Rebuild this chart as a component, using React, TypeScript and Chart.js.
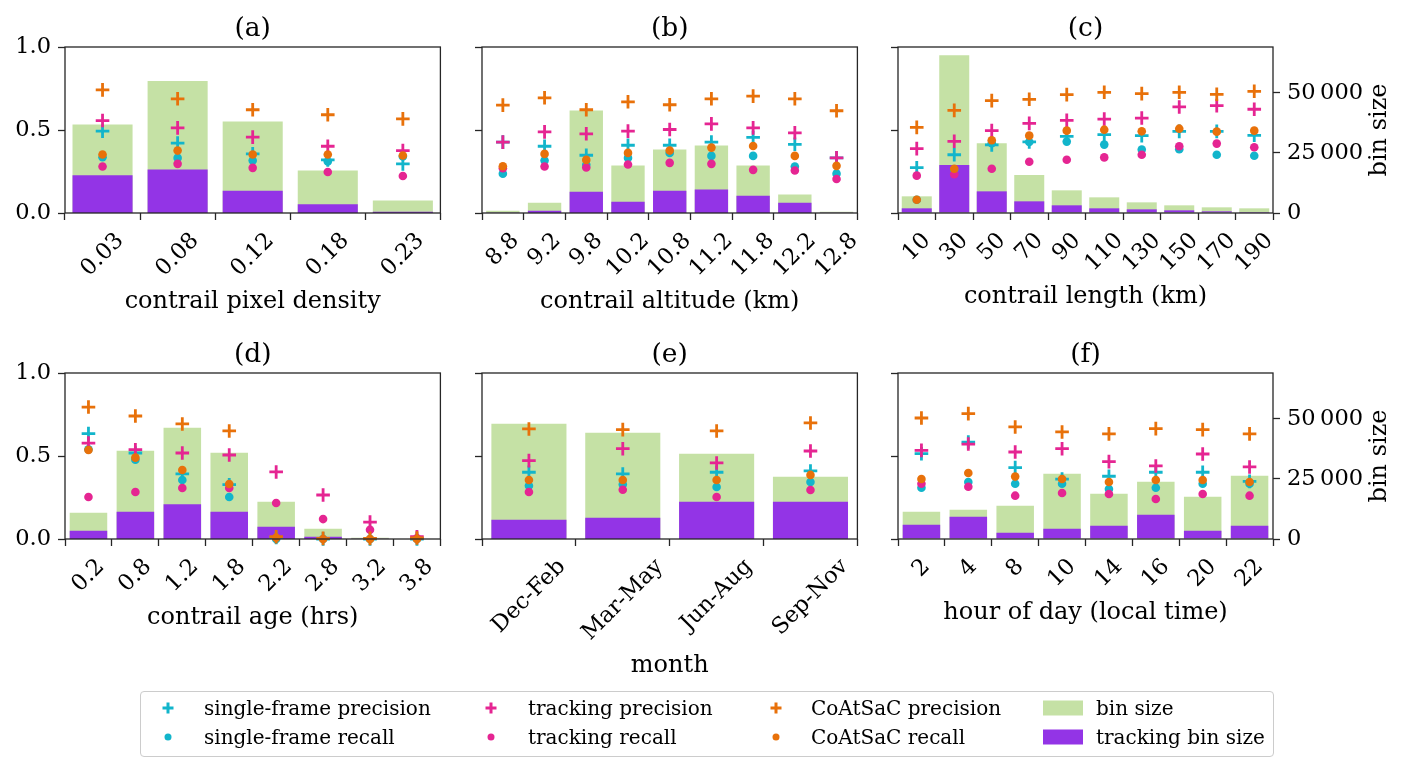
import { useEffect, useRef } from 'react';
import { Chart, registerables } from 'chart.js';

Chart.register(...registerables);

const FAMILY = "'DejaVu Serif', serif";
const INK = '#262626';
const CYAN = '#12b5cb';
const PINK = '#e52592';
const ORANGE = '#e8710a';
const GREEN = '#c5e1a5';
const PURPLE = '#9334e6';
const TICK_SIZE = 22.5;
const LABEL_SIZE = 24;
const TITLE_SIZE = 26.5;
const BIN_MAX = 69000;

const binTicks = [0, 25000, 50000];

// (a) contrail pixel density
const densityLabels = ['0.03', '0.08', '0.12', '0.18', '0.23'];
const densityBin = [36800, 54850, 38050, 17650, 5150];
const densityTrackBin = [15700, 18050, 9300, 3600, 550];
const densitySfPrec = [0.493, 0.421, 0.356, 0.32, 0.296];
const densitySfRec = [0.336, 0.332, 0.316, 0.31, 0.34];
const densityTrPrec = [0.557, 0.513, 0.457, 0.402, 0.376];
const densityTrRec = [0.28, 0.296, 0.272, 0.247, 0.223];
const densityCoPrec = [0.742, 0.688, 0.622, 0.592, 0.567];
const densityCoRec = [0.352, 0.376, 0.352, 0.352, 0.346];

// (b) contrail altitude
const altLabels = ['8.8', '9.2', '9.8', '10.2', '10.8', '11.2', '11.8', '12.2', '12.8'];
const altBin = [970, 4300, 42600, 19700, 26400, 28050, 19700, 7640, 550];
const altTrackBin = [140, 970, 8880, 4720, 9300, 9720, 7220, 4300, 60];
const altSfPrec = [0.427, 0.402, 0.348, 0.408, 0.408, 0.427, 0.455, 0.414, 0.332];
const altSfRec = [0.237, 0.316, 0.29, 0.332, 0.362, 0.344, 0.344, 0.28, 0.237];
const altTrPrec = [0.427, 0.489, 0.477, 0.493, 0.503, 0.537, 0.513, 0.483, 0.332];
const altTrRec = [0.27, 0.28, 0.274, 0.292, 0.302, 0.296, 0.26, 0.256, 0.205];
const altCoPrec = [0.65, 0.694, 0.622, 0.67, 0.652, 0.688, 0.704, 0.688, 0.616];
const altCoRec = [0.282, 0.356, 0.32, 0.362, 0.376, 0.394, 0.404, 0.344, 0.284];

// (c) contrail length
const lenLabels = ['10', '30', '50', '70', '90', '110', '130', '150', '170', '190'];
const lenBin = [6930, 65600, 28960, 15800, 9420, 6510, 4430, 3190, 2360, 1940];
const lenTrackBin = [1940, 19950, 9000, 4850, 3190, 1940, 1520, 1110, 690, 420];
const lenSfPrec = [0.273, 0.351, 0.41, 0.428, 0.462, 0.472, 0.466, 0.492, 0.492, 0.468];
const lenSfRec = [0.08, 0.26, 0.42, 0.428, 0.43, 0.412, 0.382, 0.384, 0.351, 0.345];
const lenTrPrec = [0.388, 0.432, 0.496, 0.54, 0.558, 0.566, 0.572, 0.639, 0.647, 0.625];
const lenTrRec = [0.225, 0.233, 0.267, 0.309, 0.321, 0.335, 0.351, 0.402, 0.418, 0.396];
const lenCoPrec = [0.516, 0.618, 0.677, 0.685, 0.713, 0.727, 0.719, 0.727, 0.715, 0.733];
const lenCoRec = [0.08, 0.267, 0.438, 0.466, 0.496, 0.502, 0.492, 0.508, 0.49, 0.496];

// (d) contrail age
const ageLabels = ['0.2', '0.8', '1.2', '1.8', '2.2', '2.8', '3.2', '3.8'];
const ageBin = [10950, 36720, 46280, 35890, 15520, 4300, 550, 40];
const ageTrackBin = [3460, 11360, 14410, 11360, 5130, 970, 70, 10];
const ageSfPrec = [0.635, 0.518, 0.392, 0.327, 0.01, 0, 0, 0];
const ageSfRec = [0.54, 0.478, 0.355, 0.253, 0, 0, 0, 0];
const ageTrPrec = [0.578, 0.538, 0.518, 0.506, 0.404, 0.265, 0.102, 0.014];
const ageTrRec = [0.253, 0.283, 0.307, 0.307, 0.217, 0.12, 0.056, 0.005];
const ageCoPrec = [0.795, 0.741, 0.693, 0.651, 0.014, 0.004, 0.004, 0.006];
const ageCoRec = [0.536, 0.49, 0.416, 0.331, 0.008, 0, 0, 0];

// (e) month
const monthLabels = ['Dec-Feb', 'Mar-May', 'Jun-Aug', 'Sep-Nov'];
const monthBin = [47950, 44200, 35470, 25910];
const monthTrackBin = [8040, 8870, 15520, 15520];
const monthSfPrec = [0.402, 0.392, 0.402, 0.41];
const monthSfRec = [0.321, 0.329, 0.313, 0.343];
const monthTrPrec = [0.472, 0.544, 0.458, 0.53];
const monthTrRec = [0.283, 0.297, 0.253, 0.295];
const monthCoPrec = [0.663, 0.659, 0.651, 0.699];
const monthCoRec = [0.355, 0.355, 0.355, 0.386];

// (f) hour of day
const hourLabels = ['2', '4', '8', '10', '14', '16', '20', '22'];
const hourBin = [11360, 12190, 13860, 27160, 18840, 23830, 17600, 26330];
const hourTrackBin = [5960, 9280, 2630, 4300, 5540, 10110, 3460, 5540];
const hourSfPrec = [0.514, 0.584, 0.43, 0.361, 0.378, 0.402, 0.402, 0.347];
const hourSfRec = [0.309, 0.343, 0.333, 0.333, 0.301, 0.309, 0.333, 0.333];
const hourTrPrec = [0.534, 0.572, 0.524, 0.544, 0.466, 0.44, 0.512, 0.434];
const hourTrRec = [0.333, 0.315, 0.261, 0.277, 0.271, 0.241, 0.271, 0.261];
const hourCoPrec = [0.729, 0.755, 0.675, 0.645, 0.633, 0.665, 0.659, 0.633];
const hourCoRec = [0.361, 0.398, 0.376, 0.361, 0.343, 0.355, 0.355, 0.343];

const seriesNames = [
  'single-frame precision',
  'single-frame recall',
  'tracking precision',
  'tracking recall',
  'CoAtSaC precision',
  'CoAtSaC recall',
  'bin size',
  'tracking bin size',
];

type Panel = {
  title: string;
  xTitle: string;
  labels: string[];
  bin: number[];
  trackBin: number[];
  metrics: number[][]; // sfPrec, sfRec, trPrec, trRec, coPrec, coRec
  col: number;
  row: number;
};

const panels: Panel[] = [
  { title: '(a)', xTitle: 'contrail pixel density', labels: densityLabels, bin: densityBin, trackBin: densityTrackBin,
    metrics: [densitySfPrec, densitySfRec, densityTrPrec, densityTrRec, densityCoPrec, densityCoRec], col: 0, row: 0 },
  { title: '(b)', xTitle: 'contrail altitude (km)', labels: altLabels, bin: altBin, trackBin: altTrackBin,
    metrics: [altSfPrec, altSfRec, altTrPrec, altTrRec, altCoPrec, altCoRec], col: 1, row: 0 },
  { title: '(c)', xTitle: 'contrail length (km)', labels: lenLabels, bin: lenBin, trackBin: lenTrackBin,
    metrics: [lenSfPrec, lenSfRec, lenTrPrec, lenTrRec, lenCoPrec, lenCoRec], col: 2, row: 0 },
  { title: '(d)', xTitle: 'contrail age (hrs)', labels: ageLabels, bin: ageBin, trackBin: ageTrackBin,
    metrics: [ageSfPrec, ageSfRec, ageTrPrec, ageTrRec, ageCoPrec, ageCoRec], col: 0, row: 1 },
  { title: '(e)', xTitle: 'month', labels: monthLabels, bin: monthBin, trackBin: monthTrackBin,
    metrics: [monthSfPrec, monthSfRec, monthTrPrec, monthTrRec, monthCoPrec, monthCoRec], col: 1, row: 1 },
  { title: '(f)', xTitle: 'hour of day (local time)', labels: hourLabels, bin: hourBin, trackBin: hourTrackBin,
    metrics: [hourSfPrec, hourSfRec, hourTrPrec, hourTrRec, hourCoPrec, hourCoRec], col: 2, row: 1 },
];

// plot-area geometry in page pixels
const COLS = [[65, 444], [482, 861], [898, 1273]];
const ROWS = [[47, 213], [373, 539]];
const PAD_LEFT = 65;
const PAD_TOP = 47;
const PAD_BOTTOM = 150;
const PAD_RIGHT_AXIS = 135;
const PAD_RIGHT = 6;

const markerStyles = [
  { color: CYAN, style: 'cross' },
  { color: CYAN, style: 'circle' },
  { color: PINK, style: 'cross' },
  { color: PINK, style: 'circle' },
  { color: ORANGE, style: 'cross' },
  { color: ORANGE, style: 'circle' },
];

const fmtThousands = (v: number) =>
  String(Math.round(v)).replace(/\B(?=(\d{3})+(?!\d))/g, '\u2009');

const panelDecor = {
  id: 'panelDecor',
  afterDatasetsDraw(chart: any) {
    const { ctx, chartArea: a } = chart;
    ctx.save();
    ctx.strokeStyle = INK;
    ctx.lineWidth = 1.3;
    ctx.strokeRect(a.left, a.top, a.right - a.left, a.bottom - a.top);
    ctx.restore();
  },
  afterDraw(chart: any, _args: any, opts: any) {
    const { ctx, chartArea: a } = chart;
    const xs = chart.scales.x;
    const cx = (a.left + a.right) / 2;
    ctx.save();
    ctx.fillStyle = '#000';

    ctx.font = `${TITLE_SIZE}px ${FAMILY}`;
    ctx.textAlign = 'center';
    ctx.textBaseline = 'alphabetic';
    ctx.fillText(opts.title, cx, a.top - 11);

    // rotated category labels, centred under their ticks
    ctx.font = `${TICK_SIZE}px ${FAMILY}`;
    const lh = TICK_SIZE * 1.15;
    const top = a.bottom + 15;
    let maxBox = 0;
    (chart.data.labels as string[]).forEach((lab, i) => {
      const x = xs.getPixelForTick(i);
      const w = ctx.measureText(lab).width;
      const box = (w + lh) * Math.SQRT1_2;
      maxBox = Math.max(maxBox, box);
      ctx.save();
      ctx.translate(x, top + box / 2);
      ctx.rotate(-Math.PI / 4);
      ctx.textAlign = 'center';
      ctx.textBaseline = 'middle';
      ctx.fillText(lab, 0, 0);
      ctx.restore();
    });

    ctx.font = `${LABEL_SIZE}px ${FAMILY}`;
    ctx.textAlign = 'center';
    ctx.textBaseline = 'top';
    ctx.fillText(opts.xTitle, cx, top + maxBox + 8);

    if (opts.rightTitle) {
      ctx.save();
      ctx.translate(a.right + 107, (a.top + a.bottom) / 2);
      ctx.rotate(-Math.PI / 2);
      ctx.textAlign = 'center';
      ctx.textBaseline = 'middle';
      ctx.fillText(opts.rightTitle, 0, 0);
      ctx.restore();
    }
    ctx.restore();
  },
};

function PanelChart({ panel }: { panel: Panel }) {
  const chartRef = useRef<HTMLCanvasElement>(null);
  const [areaLeft, areaRight] = COLS[panel.col];
  const [areaTop, areaBottom] = ROWS[panel.row];
  const showLeft = panel.col === 0;
  const showRight = panel.col === 2;
  const padRight = showRight ? PAD_RIGHT_AXIS : PAD_RIGHT;
  const left = areaLeft - PAD_LEFT;
  const top = areaTop - PAD_TOP;
  const width = areaRight - areaLeft + PAD_LEFT + padRight;
  const height = areaBottom - areaTop + PAD_TOP + PAD_BOTTOM;

  useEffect(() => {
    if (!chartRef.current) return;
    const tickGrid = {
      display: true,
      drawOnChartArea: false,
      drawTicks: true,
      tickLength: 7,
      tickWidth: 1.3,
      tickColor: INK,
    };
    const metricSets = panel.metrics.map((values, i) => {
      const m = markerStyles[i];
      const cross = m.style === 'cross';
      return {
        type: 'line' as const,
        label: seriesNames[i],
        data: values,
        showLine: false,
        yAxisID: 'y',
        pointStyle: m.style,
        pointRadius: cross ? 6.8 : 4.3,
        pointBorderWidth: cross ? 2.8 : 0,
        pointBorderColor: m.color,
        pointBackgroundColor: m.color,
        borderColor: m.color,
        backgroundColor: m.color,
        order: 6 - i,
        clip: false,
      };
    });
    const chart = new Chart(chartRef.current, {
      type: 'bar',
      data: {
        labels: panel.labels,
        datasets: [
          {
            type: 'bar',
            label: seriesNames[6],
            data: panel.bin,
            backgroundColor: GREEN,
            yAxisID: 'y2',
            grouped: false,
            categoryPercentage: 0.8,
            barPercentage: 1,
            order: 8,
          },
          {
            type: 'bar',
            label: seriesNames[7],
            data: panel.trackBin,
            backgroundColor: PURPLE,
            yAxisID: 'y2',
            grouped: false,
            categoryPercentage: 0.8,
            barPercentage: 1,
            order: 7,
          },
          ...metricSets,
        ] as any,
      },
      options: {
        animation: false,
        responsive: true,
        maintainAspectRatio: false,
        layout: { padding: { top: PAD_TOP, right: showRight ? 0 : PAD_RIGHT, bottom: 0, left: 0 } },
        plugins: {
          legend: { display: false },
          tooltip: { enabled: false },
          panelDecor: {
            title: panel.title,
            xTitle: panel.xTitle,
            rightTitle: showRight ? 'bin size' : '',
          },
        } as any,
        scales: {
          x: {
            type: 'category',
            offset: true,
            grid: tickGrid,
            border: { display: false },
            ticks: { display: false },
            afterFit: (s: any) => { s.height = PAD_BOTTOM; },
          },
          y: {
            position: 'left',
            min: 0,
            max: 1,
            grid: tickGrid,
            border: { display: false },
            ticks: {
              display: showLeft,
              stepSize: 0.5,
              padding: 7,
              color: '#000',
              font: { family: FAMILY, size: TICK_SIZE },
              callback: (v: any) => Number(v).toFixed(1),
            },
            afterFit: (s: any) => { s.width = PAD_LEFT; },
          },
          y2: {
            position: 'right',
            display: showRight,
            min: 0,
            max: BIN_MAX,
            grid: tickGrid,
            border: { display: false },
            ticks: {
              padding: 7,
              color: '#000',
              font: { family: FAMILY, size: TICK_SIZE },
              callback: (v: any) => fmtThousands(Number(v)),
            },
            afterBuildTicks: (s: any) => { s.ticks = binTicks.map((value) => ({ value })); },
            afterFit: (s: any) => { if (showRight) s.width = PAD_RIGHT_AXIS; },
          },
        } as any,
      },
      plugins: [panelDecor],
    });
    return () => chart.destroy();
  }, [panel, showLeft, showRight]);

  return (
    <div style={{ position: 'absolute', left, top, width, height }}>
      <canvas ref={chartRef} />
    </div>
  );
}

function LegendMarker({ kind, color }: { kind: string; color: string }) {
  if (kind === 'cross') {
    return (
      <div style={{ position: 'relative', width: 11, height: 11 }}>
        <div style={{ position: 'absolute', left: 0, top: 4.3, width: 11, height: 2.4, background: color }} />
        <div style={{ position: 'absolute', left: 4.3, top: 0, width: 2.4, height: 11, background: color }} />
      </div>
    );
  }
  if (kind === 'circle') {
    return <div style={{ width: 7, height: 7, borderRadius: '50%', background: color }} />;
  }
  return <div style={{ width: 40, height: 15, background: color }} />;
}

const legendItems = [
  { kind: 'cross', color: CYAN, col: 0, row: 0 },
  { kind: 'circle', color: CYAN, col: 0, row: 1 },
  { kind: 'cross', color: PINK, col: 1, row: 0 },
  { kind: 'circle', color: PINK, col: 1, row: 1 },
  { kind: 'cross', color: ORANGE, col: 2, row: 0 },
  { kind: 'circle', color: ORANGE, col: 2, row: 1 },
  { kind: 'patch', color: GREEN, col: 3, row: 0 },
  { kind: 'patch', color: PURPLE, col: 3, row: 1 },
];
const LEGEND_MARKER_X = [27, 350, 635, 922];
const LEGEND_TEXT_X = [63, 387, 670, 955];
const LEGEND_ROW_Y = [16, 45];

function Legend() {
  return (
    <div
      style={{
        position: 'absolute',
        left: 140,
        top: 691,
        width: 1134,
        height: 66,
        boxSizing: 'border-box',
        border: '1.3px solid #cccccc',
        borderRadius: 4,
        background: '#fff',
        fontFamily: FAMILY,
        fontSize: 20,
        color: '#000',
      }}
    >
      {legendItems.map((it, i) => (
        <div key={i}>
          <div
            style={{
              position: 'absolute',
              left: LEGEND_MARKER_X[it.col],
              top: LEGEND_ROW_Y[it.row],
              transform: 'translate(-50%, -50%)',
            }}
          >
            <LegendMarker kind={it.kind} color={it.color} />
          </div>
          <div
            style={{
              position: 'absolute',
              left: LEGEND_TEXT_X[it.col],
              top: LEGEND_ROW_Y[it.row],
              transform: 'translateY(-50%)',
              whiteSpace: 'nowrap',
              lineHeight: 1,
            }}
          >
            {seriesNames[i]}
          </div>
        </div>
      ))}
    </div>
  );
}

export default function App() {
  return (
    <div style={{ position: 'absolute', left: 0, top: 0, width: 1410, height: 770, background: '#fff' }}>
      {panels.map((p) => (
        <PanelChart key={p.title} panel={p} />
      ))}
      <Legend />
    </div>
  );
}
